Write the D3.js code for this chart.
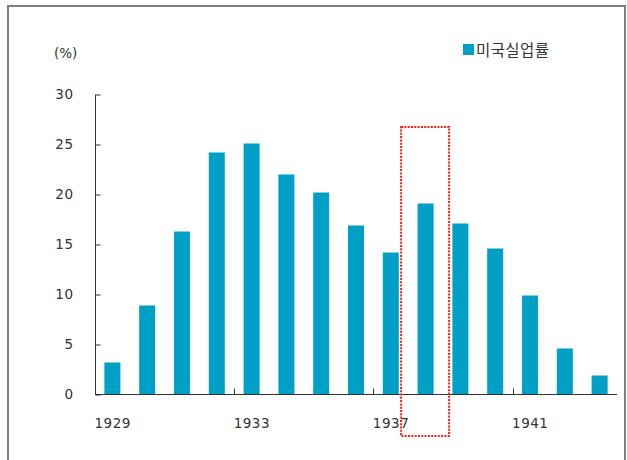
<!DOCTYPE html>
<html><head><meta charset="utf-8">
<script src="https://cdn.jsdelivr.net/npm/d3@7"></script>
<style>body{margin:0;background:#fff}svg{display:block}</style>
</head><body>
<svg id="c" width="627" height="460"></svg>
<script>
const years = ["1929","1930","1931","1932","1933","1934","1935","1936","1937","1938","1939","1940","1941","1942","1943"];
const unemployment = [3.2, 8.9, 16.3, 24.2, 25.1, 22.0, 20.2, 16.9, 14.2, 19.1, 17.1, 14.6, 9.9, 4.6, 1.9];
const yTicks = [0, 5, 10, 15, 20, 25, 30];
const xLabels = ["1929","1933","1937","1941"];
const seriesName = "미국실업률";
const highlightYear = "1938";

const svg = d3.select("#c");
const font = "'DejaVu Sans', Verdana, sans-serif";
const ls = 0.5;
const fs = 13.5;
const barColor = "#009fc6";

// frame
svg.append("path").attr("d","M8,461 V6 H625 V461").attr("fill","none").attr("stroke","#808080").attr("stroke-width",2);

const x = d3.scaleBand().domain(years).range([95, 617]).paddingInner(0.54).paddingOuter(0.27);
const y = d3.scaleLinear().domain([0, 30]).range([394.5, 94.5]);

// bars
svg.append("g").selectAll("rect").data(years).join("rect")
  .attr("x", d => x(d)).attr("width", x.bandwidth())
  .attr("y", (d,i) => y(unemployment[i])).attr("height", (d,i) => y(0) - y(unemployment[i]))
  .attr("fill", barColor);

// y axis
const yAxis = svg.append("g").attr("transform","translate(95.5,0)")
  .call(d3.axisRight(y).tickValues(yTicks).tickSize(5).tickFormat(""));
yAxis.select(".domain").remove();
yAxis.selectAll("line").attr("stroke","#333");
svg.append("line").attr("x1",95.5).attr("x2",95.5).attr("y1",y(30)).attr("y2",y(0)).attr("stroke","#333");
svg.append("g").selectAll("text").data(yTicks).join("text")
  .attr("x", 73 + ls).attr("y", d => y(d)).attr("dy","0.36em").attr("text-anchor","end")
  .attr("font-family",font).attr("font-size",fs).attr("letter-spacing",ls).attr("fill","#333").text(d => d);

// x axis
const step = x.step();
const tickYears = ["1933","1937","1941"];
svg.append("line").attr("x1",95).attr("x2",617).attr("y1",y(0)).attr("y2",y(0)).attr("stroke","#333").attr("stroke-width",1.2);
svg.append("g").selectAll("line").data(tickYears).join("line")
  .attr("x1", d => Math.round(x(d) - step*x.paddingInner()/2)+0.5)
  .attr("x2", d => Math.round(x(d) - step*x.paddingInner()/2)+0.5)
  .attr("y1", y(0)).attr("y2", y(0)-6).attr("stroke","#333");
svg.append("g").selectAll("text").data(xLabels).join("text")
  .attr("x", d => x(d) + x.bandwidth()/2 + ls/2).attr("y", 423).attr("dy","0.36em").attr("text-anchor","middle")
  .attr("font-family",font).attr("font-size",fs).attr("letter-spacing",ls).attr("fill","#333").text(d => d);

// unit
svg.append("text").attr("x",54).attr("y",53).attr("dy","0.36em").attr("font-family",font)
  .attr("font-size",fs).attr("fill","#333").text("(%)");

// legend
svg.append("rect").attr("x",463).attr("y",44).attr("width",11).attr("height",11).attr("fill",barColor);
svg.append("text").attr("x",476).attr("y",50).attr("dy","0.36em").attr("font-family","'Noto Sans CJK KR', sans-serif")
  .attr("font-size",15.5).attr("letter-spacing",0.4).attr("fill","#333").text(seriesName);

// highlight box
const hx = x(highlightYear);
svg.append("rect").attr("x", hx - 16.5).attr("y",127).attr("width",48).attr("height",309)
  .attr("fill","none").attr("stroke","#ff1a1a").attr("stroke-width",2).attr("stroke-dasharray","2,1.3");
</script>
</body></html>
